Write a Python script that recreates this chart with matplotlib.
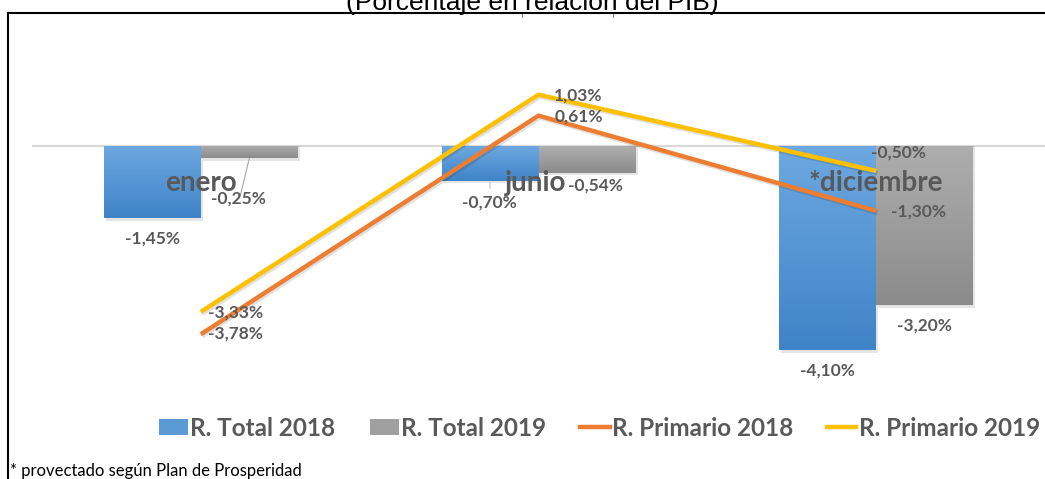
import numpy as np
import matplotlib
matplotlib.use("Agg")
import matplotlib.pyplot as plt
from matplotlib.lines import Line2D
from matplotlib.patches import Patch
from matplotlib.colors import LinearSegmentedColormap
from matplotlib.transforms import ScaledTranslation

# datos (porcentaje del PIB)
meses = ["enero", "junio", "*diciembre"]
total_2018 = [-1.45, -0.70, -4.10]
total_2019 = [-0.25, -0.54, -3.20]
primario_2018 = [-3.78, 0.61, -1.30]
primario_2019 = [-3.33, 1.03, -0.50]
series_names = ["R. Total 2018", "R. Total 2019", "R. Primario 2018", "R. Primario 2019"]

naranja = "#ED7D31"
amarillo = "#FFC000"
txt = "#595959"

W, H = 1045, 479
fig = plt.figure(figsize=(W / 100, H / 100), dpi=100)

# area del grafico (pixeles -> fraccion)
ax_top, ax_bot = 40, 400
ax = fig.add_axes([32 / W, 1 - ax_bot / H, (1045 - 32) / W, (ax_bot - ax_top) / H])
ppu = 49.8  # px por unidad
zero_px = 146
ylims = ((zero_px - ax_bot) / ppu, (zero_px - ax_top) / ppu)
ax.axis("off")

x = np.arange(len(meses))
bw = 97 / 337.7

ax.axhline(0, color="#D9D9D9", lw=1.5, zorder=1)


def grad_bars(xs, vals, c_top, c_bot):
    cmap = LinearSegmentedColormap.from_list("g", [c_top, c_bot])
    bars = ax.bar(xs, vals, width=bw, color=c_top, zorder=2)
    for b in bars:
        x0 = b.get_x()
        y0 = b.get_y()
        h = b.get_height()
        # sombra
        ax.bar(x0 + bw / 2 + 0.006, h - 0.05, width=bw, bottom=y0, color="#000000",
               alpha=0.10, zorder=1.5)
        g = np.linspace(0, 1, 100).reshape(-1, 1)
        im = ax.imshow(g, extent=[x0, x0 + bw, y0 + h, y0], aspect="auto", cmap=cmap,
                       origin="upper", zorder=2.1)
        im.set_clip_path(b)
    return bars


grad_bars(x - bw / 2, total_2018, "#6DA8E0", "#3F84C8")
grad_bars(x + bw / 2, total_2019, "#AEAEAE", "#8B8B8B")
ax.set_xlim(-0.5, 2.5)
ax.set_ylim(*ylims)

# lineas con sombra
for vals, c in [(primario_2018, naranja), (primario_2019, amarillo)]:
    ax.plot(x + 0.004, np.array(vals) - 0.04, color="#000000", alpha=0.12, lw=3.2,
            solid_capstyle="butt", zorder=3)
    ax.plot(x, vals, color=c, lw=3.2, solid_capstyle="butt", zorder=4)

# etiquetas de categoria
cat_dx = [0, -3, 0]
for i, m in enumerate(meses):
    tr = ax.transData + ScaledTranslation(cat_dx[i] / 100, -45 / 100, fig.dpi_scale_trans)
    ax.text(i, 0, m, ha="center", va="baseline", fontsize=20, fontweight="bold",
            color=txt, family="Lato", zorder=5, transform=tr)


def fmt(v):
    return ("%.2f%%" % v).replace(".", ",")


lab_kw = dict(ha="center", va="center", fontsize=12.5, fontweight="bold", color=txt,
              family="Lato", zorder=6, textcoords="offset pixels")

# offsets en pixeles (dx, dy hacia abajo)
off_t18 = [(0, 20), (-1, 22), (0, 20)]
off_t19 = [(-11, 40), (8, 13), (0, 20)]
off_p18 = [(35, -1), (40, 1), (42, 1)]
off_p19 = [(35, 1), (40, 1), (22, -18)]

for i in range(3):
    ax.annotate(fmt(total_2018[i]), (x[i] - bw / 2, total_2018[i]),
                xytext=(off_t18[i][0], -off_t18[i][1]), **lab_kw)
    ax.annotate(fmt(total_2019[i]), (x[i] + bw / 2, total_2019[i]),
                xytext=(off_t19[i][0], -off_t19[i][1]), **lab_kw)
    ax.annotate(fmt(primario_2018[i]), (x[i], primario_2018[i]),
                xytext=(off_p18[i][0], -off_p18[i][1]), **lab_kw)
    ax.annotate(fmt(primario_2019[i]), (x[i], primario_2019[i]),
                xytext=(off_p19[i][0], -off_p19[i][1]), **lab_kw)

# lineas guia
ax.annotate("", (x[0] + bw / 2, total_2019[0]), xytext=(-9, -37), textcoords="offset pixels",
            arrowprops=dict(arrowstyle="-", color="#A6A6A6", lw=0.8, shrinkA=0, shrinkB=0), zorder=5)
ax.annotate("", (x[1] - bw / 2, total_2018[1] - 0.03), xytext=(0, -6), textcoords="offset pixels",
            arrowprops=dict(arrowstyle="-", color="#BFBFBF", lw=0.8, shrinkA=0, shrinkB=0), zorder=5)

# leyenda
handles = [Patch(facecolor="#5B9BD5"), Patch(facecolor="#A0A0A0"),
           Line2D([], [], color=naranja, lw=3.2), Line2D([], [], color=amarillo, lw=3.2)]
leg = fig.legend(handles, series_names, loc="center left", bbox_to_anchor=(137 / W, 1 - 428 / H),
                 ncol=4, frameon=False, handlelength=1.2, handleheight=0.6, handletextpad=0.1,
                 columnspacing=1.4, prop={"family": "Lato", "weight": "bold", "size": 17.5})
for t in leg.get_texts():
    t.set_color(txt)

# marco y titulo
fig.add_artist(Line2D([8 / W, 1], [1 - 13 / H, 1 - 13 / H], color="black", lw=1.5))
fig.add_artist(Line2D([8 / W, 8 / W], [1 - 13 / H, 0], color="black", lw=1.5))
for px in [522, 613]:
    fig.add_artist(Line2D([px / W, px / W], [1 - 14 / H, 1 - 17 / H], color="#808080", lw=0.7))
fig.text(532 / W, 1 - 10 / H, "(Porcentaje en relación del PIB)", ha="center", va="baseline",
         fontsize=19, family="Liberation Sans")
fig.text(10 / W, 1 - 476 / H, "* provectado según Plan de Prosperidad", ha="left", va="baseline",
         fontsize=12, family="Lato")

fig.savefig("out.png", dpi=100)
